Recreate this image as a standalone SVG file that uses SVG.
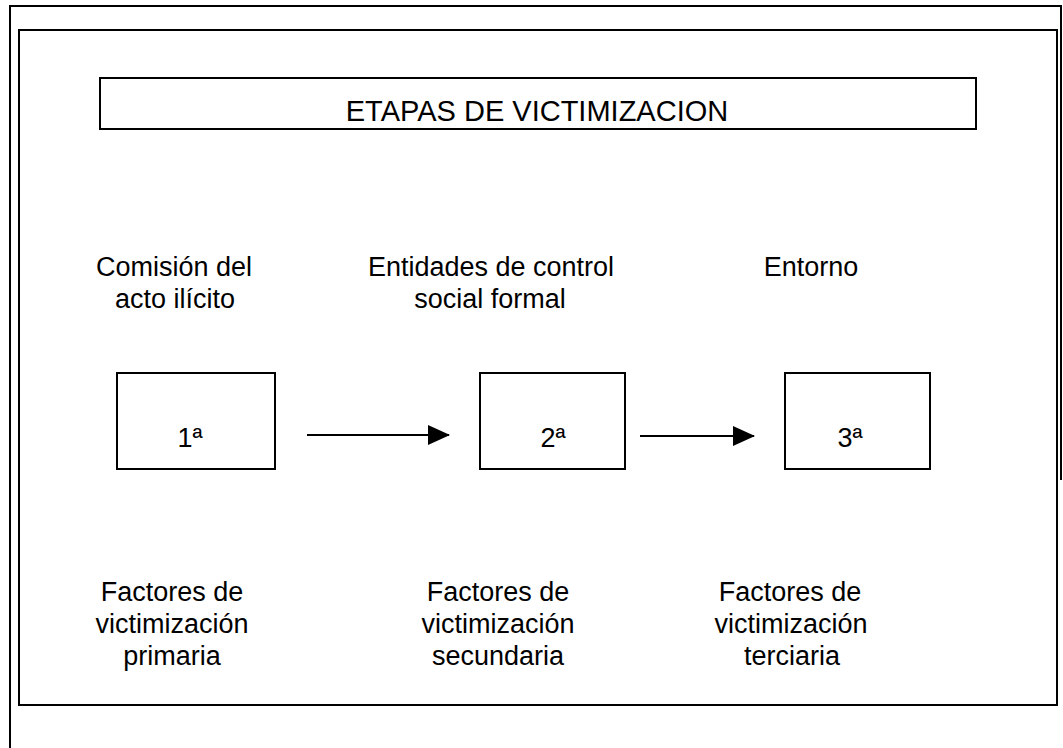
<svg xmlns="http://www.w3.org/2000/svg" width="1063" height="748" viewBox="0 0 1063 748">
  <defs>
    <style>
      .frame { fill: none; stroke: #000; stroke-width: 2; }
      .box { fill: #fff; stroke: #000; stroke-width: 2; }
      .t { font-family: "Liberation Sans", Arial, sans-serif; font-size: 27px; fill: #000; text-anchor: middle; }
      .title { font-family: "Liberation Sans", Arial, sans-serif; font-size: 29px; fill: #000; text-anchor: middle; }
      .conn { stroke: #000; stroke-width: 2; fill: none; }
    </style>
    <marker id="arrow" viewBox="0 0 22 20" refX="21" refY="10" markerWidth="22" markerHeight="20" markerUnits="userSpaceOnUse" orient="auto">
      <path d="M0,0 L22,10 L0,20 Z" fill="#000"/>
    </marker>
  </defs>
  <rect width="1063" height="748" fill="#fff"/>
  <g id="outer-frame">
    <path class="frame" d="M10,748 L10,6 L1061,6 L1061,480"/>
    <rect class="frame" x="19" y="30" width="1038" height="675"/>
  </g>
  <g id="title">
    <rect class="box" x="100" y="78" width="876" height="51"/>
    <text class="title" x="537" y="121">ETAPAS DE VICTIMIZACION</text>
  </g>
  <g id="label-1-top">
    <text class="t" x="174" y="276">Comisión del</text>
    <text class="t" x="175" y="308">acto ilícito</text>
  </g>
  <g id="label-2-top">
    <text class="t" x="491" y="276">Entidades de control</text>
    <text class="t" x="490" y="308">social formal</text>
  </g>
  <g id="label-3-top">
    <text class="t" x="811" y="276">Entorno</text>
  </g>
  <g id="node-1">
    <rect class="box" x="117" y="373" width="158" height="96"/>
    <text class="t" x="190" y="447">1ª</text>
  </g>
  <g id="node-2">
    <rect class="box" x="480" y="373" width="145" height="96"/>
    <text class="t" x="553" y="447">2ª</text>
  </g>
  <g id="node-3">
    <rect class="box" x="785" y="373" width="145" height="96"/>
    <text class="t" x="850" y="447">3ª</text>
  </g>
  <g id="connectors">
    <line class="conn" x1="307" y1="435" x2="449" y2="435" marker-end="url(#arrow)"/>
    <line class="conn" x1="640" y1="436" x2="754" y2="436" marker-end="url(#arrow)"/>
  </g>
  <g id="label-1-bottom">
    <text class="t" x="172" y="601">Factores de</text>
    <text class="t" x="172" y="633">victimización</text>
    <text class="t" x="172" y="665">primaria</text>
  </g>
  <g id="label-2-bottom">
    <text class="t" x="498" y="601">Factores de</text>
    <text class="t" x="498" y="633">victimización</text>
    <text class="t" x="498" y="665">secundaria</text>
  </g>
  <g id="label-3-bottom">
    <text class="t" x="790" y="601">Factores de</text>
    <text class="t" x="791" y="633">victimización</text>
    <text class="t" x="792" y="665">terciaria</text>
  </g>
</svg>
